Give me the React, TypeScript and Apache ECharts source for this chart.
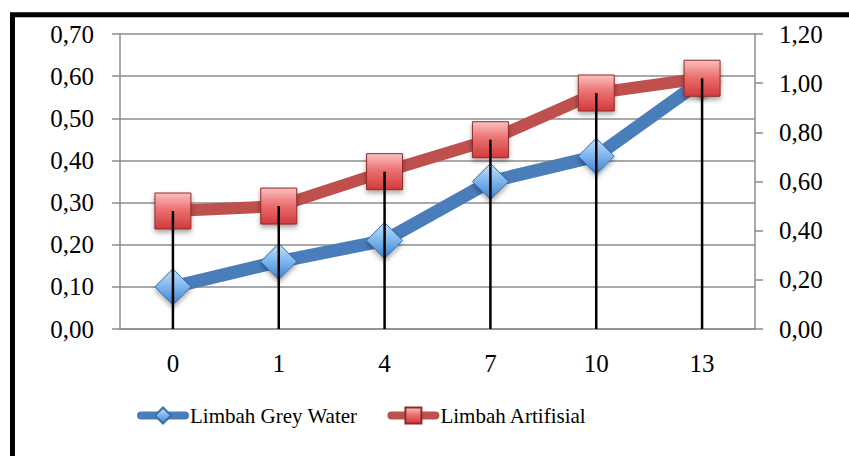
import React, { useEffect, useRef } from "react";
import * as echarts from "echarts";

// Sampling days (category axis)
const days = ["0", "1", "4", "7", "10", "13"];
// Grey water series, read on the left axis
const greyWater = [0.1, 0.16, 0.21, 0.35, 0.41, 0.59];
// Artificial waste series, read on the right axis
const artifisial = [0.48, 0.5, 0.64, 0.77, 0.96, 1.02];

const leftTicks = { min: 0, max: 0.7, interval: 0.1 };
const rightTicks = { min: 0, max: 1.2, interval: 0.2 };

const FONT = "'Liberation Serif', 'Times New Roman', serif";
const fmt = (v: number) => v.toFixed(2).replace(".", ",");

const blueFill = new echarts.graphic.LinearGradient(0, 0, 0, 1, [
  { offset: 0, color: "#c4e2fc" },
  { offset: 0.5, color: "#7db5ee" },
  { offset: 1, color: "#3f7fcb" },
]);
const redFill = new echarts.graphic.LinearGradient(0, 0, 0, 1, [
  { offset: 0, color: "#fbc0c0" },
  { offset: 0.45, color: "#ec7272" },
  { offset: 1, color: "#d13a3a" },
]);

export default function App() {
  const ref = useRef<HTMLDivElement>(null);

  useEffect(() => {
    document.body.style.margin = "0";
    if (!ref.current) return;
    const chart = echarts.init(ref.current, null, { renderer: "svg" });
    const axisGray = "#8c8c8c";
    chart.setOption({
      animation: false,
      backgroundColor: "#ffffff",
      textStyle: { fontFamily: FONT },
      graphic: [
        {
          type: "rect",
          shape: { x: 12.5, y: 14.7, width: 1000, height: 1000 },
          style: { fill: "none", stroke: "#000", lineWidth: 5 },
          silent: true,
        },
      ],
      grid: { left: 120, right: 94, top: 34, bottom: 127 },
      legend: {
        data: ["Limbah Grey Water", "Limbah Artifisial"],
        left: 132,
        top: 400,
        itemWidth: 44,
        itemHeight: 20,
        itemGap: 30,
        textStyle: { fontFamily: FONT, fontSize: 21, color: "#000" },
        lineStyle: { width: 8, cap: "round" },
      },
      xAxis: {
        type: "category",
        data: days,
        boundaryGap: true,
        axisLine: { lineStyle: { color: axisGray, width: 1.5 } },
        axisTick: { show: false },
        axisLabel: { fontFamily: FONT, fontSize: 25, color: "#000", margin: 22 },
      },
      yAxis: [
        {
          type: "value",
          ...leftTicks,
          axisLine: { show: true, lineStyle: { color: axisGray, width: 1.5 } },
          axisTick: { show: true, length: 8, lineStyle: { color: axisGray, width: 1.5 } },
          splitLine: { lineStyle: { color: axisGray, width: 1.5 } },
          axisLabel: { fontFamily: FONT, fontSize: 25, color: "#000", margin: 26, formatter: fmt },
        },
        {
          type: "value",
          position: "right",
          ...rightTicks,
          axisLine: { show: true, lineStyle: { color: axisGray, width: 1.5 } },
          axisTick: { show: true, length: 8, lineStyle: { color: axisGray, width: 1.5 } },
          splitLine: { show: false },
          axisLabel: { fontFamily: FONT, fontSize: 25, color: "#000", margin: 24, formatter: fmt },
        },
      ],
      series: [
        {
          name: "Limbah Grey Water",
          type: "line",
          yAxisIndex: 0,
          data: greyWater,
          symbol: "diamond",
          symbolSize: 36,
          lineStyle: { color: "#4a7ebb", width: 13 },
          itemStyle: {
            color: blueFill,
            borderColor: "#3b6ea8",
            borderWidth: 1,
            shadowColor: "rgba(0,0,0,0.35)",
            shadowBlur: 5,
            shadowOffsetY: 3,
          },
          z: 2,
        },
        {
          name: "Limbah Artifisial",
          type: "line",
          yAxisIndex: 1,
          data: artifisial,
          symbol: "rect",
          symbolSize: 36,
          lineStyle: { color: "#c0504d", width: 12 },
          itemStyle: {
            color: redFill,
            borderColor: "#8e2a2a",
            borderWidth: 1,
            shadowColor: "rgba(0,0,0,0.35)",
            shadowBlur: 5,
            shadowOffsetY: 3,
          },
          z: 3,
        },
        {
          // drop lines from the axis up to the highest point of each day
          name: "drop",
          type: "bar",
          yAxisIndex: 1,
          data: artifisial,
          barWidth: 2.5,
          itemStyle: { color: "#000" },
          silent: true,
          z: 4,
        },
      ],
    });
    return () => chart.dispose();
  }, []);

  return <div ref={ref} style={{ width: 849, height: 456 }} />;
}
